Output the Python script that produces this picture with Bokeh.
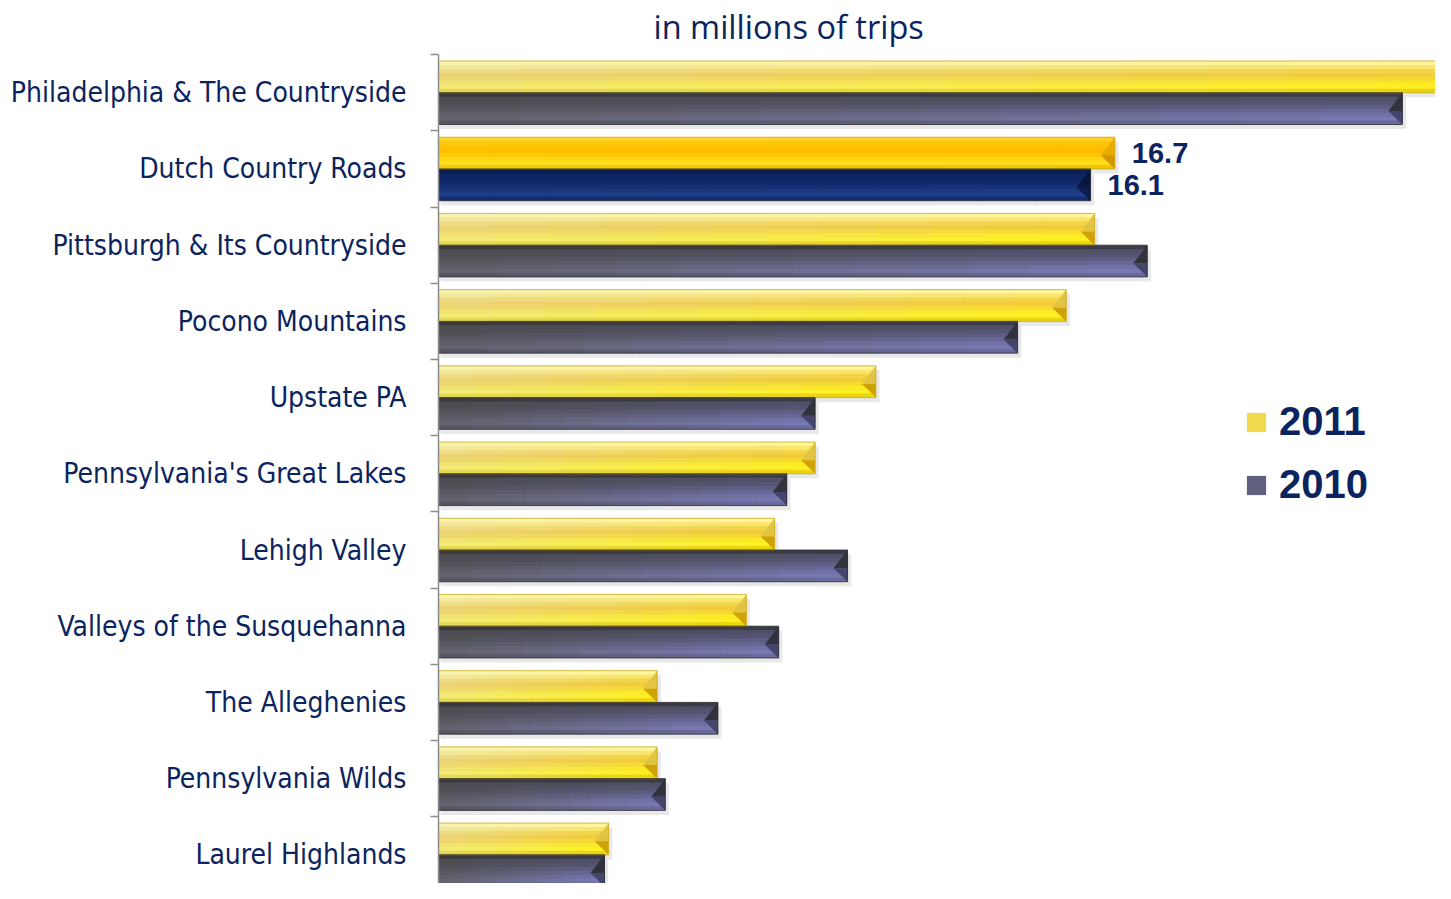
import numpy as np
from bokeh.plotting import figure
from bokeh.models import (ColumnDataSource, Range1d, FixedTicker, LabelSet, Title,
                          Legend, LegendItem)
from bokeh.core.properties import value
from bokeh.embed import file_html
from bokeh.resources import INLINE

# ---------------- data ----------------
regions = ["Philadelphia & The Countryside", "Dutch Country Roads",
           "Pittsburgh & Its Countryside", "Pocono Mountains", "Upstate PA",
           "Pennsylvania's Great Lakes", "Lehigh Valley",
           "Valleys of the Susquehanna", "The Alleghenies",
           "Pennsylvania Wilds", "Laurel Highlands"]
trips_2011 = [25.3, 16.7, 16.2, 15.5, 10.8, 9.3, 8.3, 7.6, 5.4, 5.4, 4.2]
trips_2010 = [23.8, 16.1, 17.5, 14.3, 9.3, 8.6, 10.1, 8.4, 6.9, 5.6, 4.1]
series_names = ["2011", "2010"]
highlight = "Dutch Country Roads"
title_text = "in millions of trips"

NAVY = "#0b2460"
LABEL_FONT = "DejaVu Sans Condensed"

# ---------------- geometry / styling ----------------
W, HT = 1435, 883
TOP, LEFT = 53, 438
PX_PER_CAT = 76.3
PX_PER_UNIT = 40.5
H = 31.8 / PX_PER_CAT   # bar thickness (category units)
NS, NP = 8, 12          # vertical strips / horizontal pieces for gradients
BEVEL = 14 / PX_PER_UNIT

profiles = {
    ("2011", False): (["#F7F2AE", "#F2E79C", "#EEDB88", "#ECD377", "#EDD873", "#F0E376", "#F2EB78", "#E4D85A"],
                      ["#FFF59A", "#F9E56A", "#F3D445", "#F1CB35", "#F6DA2C", "#FCE922", "#FFF01C", "#EAD40E"]),
    ("2011", True): (["#FFD52A", "#FFC90E", "#FFC200", "#FFC000", "#FFC808", "#FFD614", "#FFE01E", "#F0CC10"],
                     ["#FFD020", "#FFC508", "#FFBF00", "#FFBE00", "#FFC605", "#FFD410", "#FFDD18", "#EEC408"]),
    ("2010", False): (["#3A3A3C", "#4C4C50", "#4E4E54", "#535358", "#58585F", "#5E5E66", "#62626C", "#55555E"],
                      ["#3C3C4A", "#50506A", "#555574", "#5E5E84", "#68689A", "#7272AA", "#7A7AB4", "#6A6AA0"]),
    ("2010", True): (["#0A1E50", "#0D2462", "#0E2666", "#10296C", "#143072", "#1A377C", "#1E3C84", "#122C70"],
                     ["#0A1E50", "#0D2462", "#0E2666", "#112A6E", "#163275", "#1C3A80", "#203E88", "#142E72"]),
}
bevel_cols = {
    ("2011", False): ("#E2C444", "#CFA208"),
    ("2011", True): ("#E8AC00", "#D09600"),
    ("2010", False): ("#32323C", "#44446C"),
    ("2010", True): ("#06163E", "#0A1C52"),
}
outline_cols = {"2011": "#C9A91A", "2010": "#2A2A30"}


def hex2rgb(h):
    h = h.lstrip("#")
    return np.array([int(h[i:i + 2], 16) for i in (0, 2, 4)], dtype=float)


def lerp(c1, c2, t):
    c = hex2rgb(c1) * (1 - t) + hex2rgb(c2) * t
    return "#%02x%02x%02x" % tuple(int(round(v)) for v in c)


# ---------------- figure ----------------
n = len(regions)
y_top = -0.502
y_bottom = y_top + (HT - TOP) / PX_PER_CAT
x_end = (W - LEFT) / PX_PER_UNIT

p = figure(width=W, height=HT, output_backend="svg", toolbar_location=None,
           x_range=Range1d(0, x_end), y_range=Range1d(y_bottom, y_top),
           x_axis_location=None, min_border_left=LEFT, min_border_right=0,
           min_border_top=TOP, min_border_bottom=0, outline_line_color=None)
p.grid.visible = False
p.background_fill_color = "white"
p.border_fill_color = "white"

offsets = {"2011": -H / 2, "2010": H / 2}
values = {"2011": trips_2011, "2010": trips_2010}

# shadows
sh = dict(y=[], left=[], right=[], h=[])
for s in series_names:
    for i, v in enumerate(values[s]):
        sh["y"].append(i + offsets[s] + 0.06)
        sh["left"].append(0.05)
        sh["right"].append(v + 0.09)
        sh["h"].append(H)
p.hbar(y="y", left="left", right="right", height="h", source=ColumnDataSource(sh),
       fill_color="#bdbdbd", fill_alpha=0.35, line_color=None)

# gradient strips
st = dict(y=[], left=[], right=[], h=[], c=[])
legend_index = {}
for s in series_names:
    for i, v in enumerate(values[s]):
        hl = regions[i] == highlight
        lp, rp = profiles[(s, hl)]
        top = i + offsets[s] - H / 2
        for k in range(NS):
            y0 = top + k * H / NS
            y1 = top + (k + 1) * H / NS + (0.012 if k < NS - 1 else 0)
            for j in range(NP):
                if i == 0 and k == 4 and j == NP // 2:
                    legend_index[s] = len(st["y"])
                x0 = v * j / NP
                x1 = min(v, v * (j + 1) / NP + 0.05)
                st["y"].append((y0 + y1) / 2)
                st["h"].append(y1 - y0)
                st["left"].append(x0)
                st["right"].append(x1)
                st["c"].append(lerp(lp[k], rp[k], (j + 0.5) / NP))
strips = p.hbar(y="y", left="left", right="right", height="h",
                source=ColumnDataSource(st), fill_color="c", line_color=None)

# bevel triangles at the right ends
bv = dict(xs=[], ys=[], c=[])
for s in series_names:
    for i, v in enumerate(values[s]):
        hl = regions[i] == highlight
        up, lo = bevel_cols[(s, hl)]
        c = i + offsets[s]
        t, b, m = c - H / 2, c + H / 2, c + 0.03
        bv["xs"].append([v, v - BEVEL, v]); bv["ys"].append([t, m, m]); bv["c"].append(up)
        bv["xs"].append([v, v - BEVEL, v]); bv["ys"].append([m, m, b]); bv["c"].append(lo)
p.patches(xs="xs", ys="ys", source=ColumnDataSource(bv), fill_color="c", line_color=None)

# outlines
for s in series_names:
    src = ColumnDataSource(dict(y=[i + offsets[s] for i in range(n)], right=values[s]))
    p.hbar(y="y", left=0, right="right", height=H, source=src, fill_color=None,
           line_color=outline_cols[s], line_width=1, line_alpha=0.8)

# value labels for the highlighted region
hi = regions.index(highlight)
lab_src = ColumnDataSource(dict(
    x=[trips_2011[hi], trips_2010[hi]],
    y=[hi + offsets["2011"], hi + offsets["2010"]],
    t=["%.1f" % trips_2011[hi], "%.1f" % trips_2010[hi]]))
p.add_layout(LabelSet(x="x", y="y", text="t", source=lab_src, x_offset=17,
                      text_baseline="middle", text_font=value("Liberation Sans"),
                      text_font_style="bold", text_font_size="29px", text_color=NAVY))

# title
p.add_layout(Title(text=title_text, align="left", offset=215, standoff=7,
                   vertical_align="top",
                   text_font="Open Sans", text_font_size="32.5px", text_font_style="normal",
                   text_color=NAVY), "above")

# y axis with boundary ticks
ax = p.yaxis[0]
ax.ticker = FixedTicker(ticks=list(range(n)), minor_ticks=[k - 0.5 for k in range(n + 1)])
ax.major_label_overrides = {i: r for i, r in enumerate(regions)}
ax.major_tick_line_color = None
ax.major_tick_out = 0
ax.major_tick_in = 0
ax.minor_tick_out = 8
ax.minor_tick_in = 0
ax.minor_tick_line_color = "#8c8c8c"
ax.minor_tick_line_width = 1.5
ax.axis_line_color = "#8c8c8c"
ax.axis_line_width = 1.5
ax.major_label_standoff = 24
ax.major_label_text_font = LABEL_FONT
ax.major_label_text_font_size = "28px"
ax.major_label_text_color = NAVY

# legend
legend = Legend(items=[LegendItem(label=series_names[0], renderers=[strips], index=legend_index["2011"]),
                       LegendItem(label=series_names[1], renderers=[strips], index=legend_index["2010"])],
                location=(806, 376), padding=0, margin=0, spacing=18,
                glyph_width=24, glyph_height=24, label_standoff=11,
                label_text_font="Liberation Sans", label_text_font_style="bold",
                label_text_font_size="40px", label_text_color=NAVY,
                border_line_color=None, background_fill_alpha=0)
p.add_layout(legend, "center")

open("out.html", "w").write(file_html(p, INLINE))
